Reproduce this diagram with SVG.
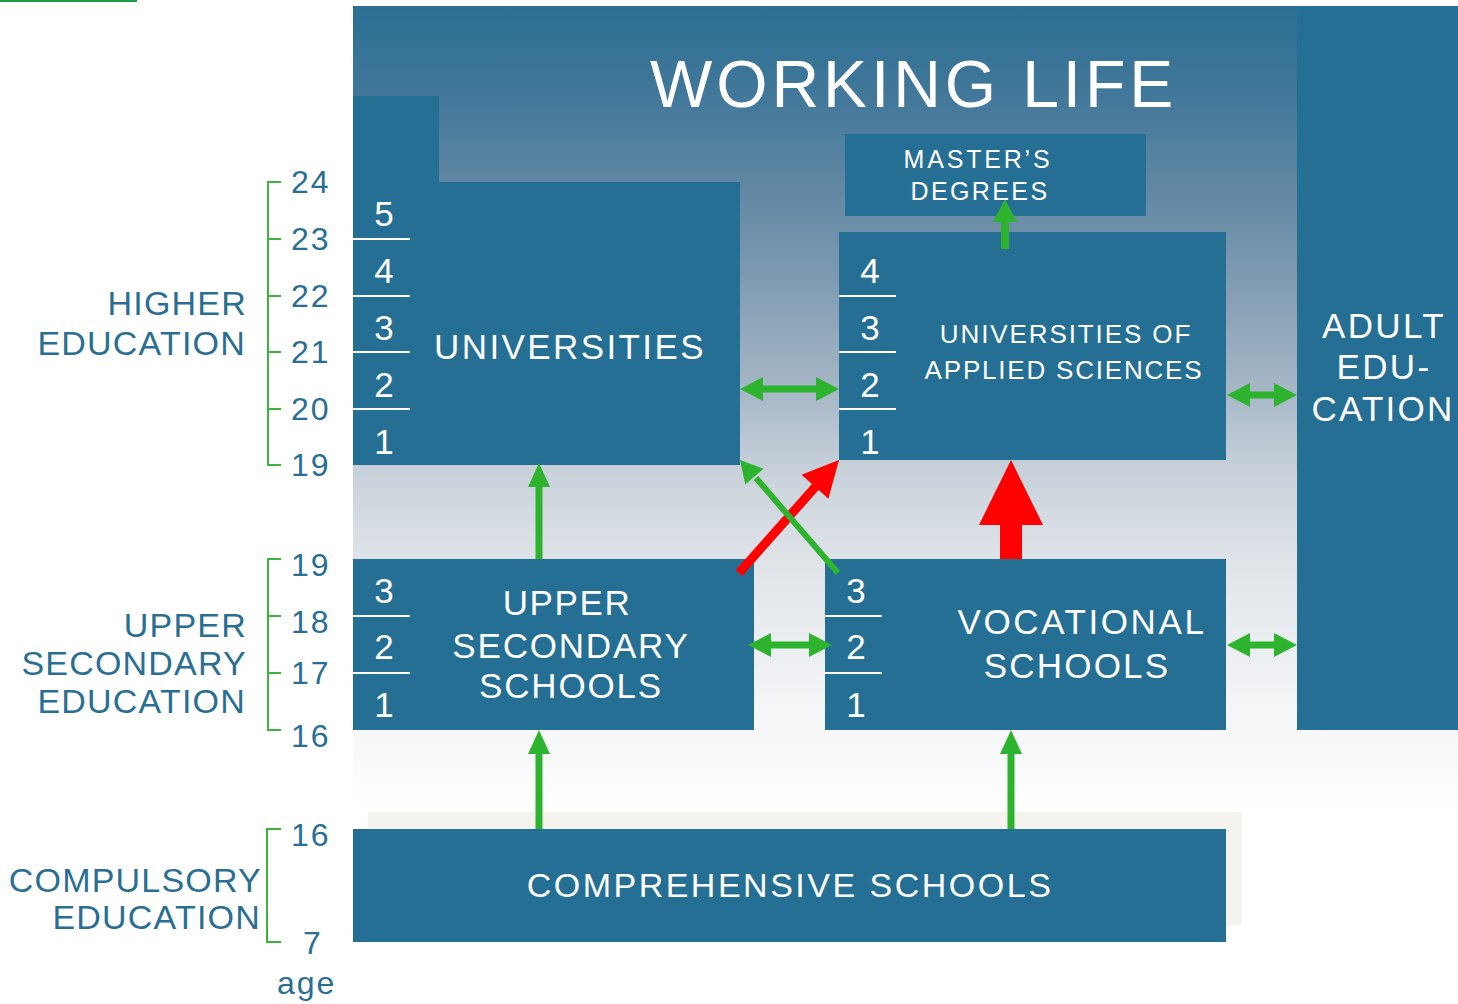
<svg xmlns="http://www.w3.org/2000/svg" width="1458" height="1004" viewBox="0 0 1458 1004">
<defs>
<linearGradient id="bg" x1="0" y1="6" x2="0" y2="812" gradientUnits="userSpaceOnUse">
<stop offset="0" stop-color="#2b6f93"/>
<stop offset="0.117" stop-color="#43789a"/>
<stop offset="0.216" stop-color="#5e86a2"/>
<stop offset="0.303" stop-color="#7594ad"/>
<stop offset="0.465" stop-color="#a3b4c4"/>
<stop offset="0.577" stop-color="#c8d1da"/>
<stop offset="0.689" stop-color="#e0e4e9"/>
<stop offset="0.863" stop-color="#f3f5f7"/>
<stop offset="0.938" stop-color="#f9fafb"/>
<stop offset="1" stop-color="#ffffff"/>
</linearGradient>
<style>
.box{fill:#256f94}
.wt{fill:#ffffff;font-family:"Liberation Sans",Arial,sans-serif}
.lbl{fill:#2a6f93;font-family:"Liberation Sans",Arial,sans-serif;font-size:34px;letter-spacing:1.2px}
.age{fill:#2a6f93;font-family:"Liberation Sans",Arial,sans-serif;font-size:32px;letter-spacing:2px}
.num{font-size:35px;text-anchor:middle}
.rule{stroke:#ffffff;stroke-width:2}
.brk{fill:none;stroke:#3bb53b;stroke-width:2}
.g{fill:#2db32d}
.r{fill:#ff0000}
</style>
</defs>
<rect x="0" y="0" width="1458" height="1004" fill="#ffffff"/>
<rect x="0" y="0" width="137" height="2" fill="#1f9a45"/>
<rect x="353" y="6" width="1105" height="806" fill="url(#bg)"/>
<rect x="368" y="812" width="874" height="113" fill="#f4f3ee"/>

<text class="wt" x="650" y="107" font-size="66" letter-spacing="3.9">WORKING LIFE</text>

<g id="masters">
<rect class="box" x="845" y="134" width="301" height="82"/>
<text class="wt" x="978" y="168" font-size="25" letter-spacing="2.8" text-anchor="middle">MASTER’S</text>
<text class="wt" x="980" y="200" font-size="25" letter-spacing="2.4" text-anchor="middle">DEGREES</text>
</g>

<g id="universities">
<rect class="box" x="353" y="96" width="86" height="369"/>
<rect class="box" x="353" y="182" width="387" height="283"/>
<line class="rule" x1="353" y1="239" x2="410" y2="239"/>
<line class="rule" x1="353" y1="296" x2="410" y2="296"/>
<line class="rule" x1="353" y1="352" x2="410" y2="352"/>
<line class="rule" x1="353" y1="409" x2="410" y2="409"/>
<text class="wt num" x="384" y="226">5</text>
<text class="wt num" x="384" y="283">4</text>
<text class="wt num" x="384" y="340">3</text>
<text class="wt num" x="384" y="397">2</text>
<text class="wt num" x="384" y="454">1</text>
<text class="wt" x="570" y="359" font-size="35" letter-spacing="2.4" text-anchor="middle">UNIVERSITIES</text>
</g>

<g id="uas">
<rect class="box" x="839" y="232" width="387" height="228"/>
<line class="rule" x1="839" y1="296" x2="896" y2="296"/>
<line class="rule" x1="839" y1="352" x2="896" y2="352"/>
<line class="rule" x1="839" y1="409" x2="896" y2="409"/>
<text class="wt num" x="870" y="283">4</text>
<text class="wt num" x="870" y="340">3</text>
<text class="wt num" x="870" y="397">2</text>
<text class="wt num" x="870" y="454">1</text>
<text class="wt" x="1066" y="343" font-size="26" letter-spacing="1.9" text-anchor="middle">UNIVERSITIES OF</text>
<text class="wt" x="1064" y="379" font-size="26" letter-spacing="1.8" text-anchor="middle">APPLIED SCIENCES</text>
</g>

<g id="adult">
<rect class="box" x="1297" y="6" width="161" height="724"/>
<text class="wt" x="1384" y="338" font-size="35" letter-spacing="2.4" text-anchor="middle">ADULT</text>
<text class="wt" x="1384" y="379" font-size="35" letter-spacing="2.4" text-anchor="middle">EDU-</text>
<text class="wt" x="1383" y="421" font-size="35" letter-spacing="2.2" text-anchor="middle">CATION</text>
</g>

<g id="upper-secondary">
<rect class="box" x="353" y="559" width="401" height="171"/>
<line class="rule" x1="353" y1="616" x2="410" y2="616"/>
<line class="rule" x1="353" y1="673" x2="410" y2="673"/>
<text class="wt num" x="384" y="603">3</text>
<text class="wt num" x="384" y="659">2</text>
<text class="wt num" x="384" y="717">1</text>
<text class="wt" x="567" y="615" font-size="35" letter-spacing="1.6" text-anchor="middle">UPPER</text>
<text class="wt" x="571" y="658" font-size="35" letter-spacing="1.8" text-anchor="middle">SECONDARY</text>
<text class="wt" x="571" y="698" font-size="35" letter-spacing="1.8" text-anchor="middle">SCHOOLS</text>
</g>

<g id="vocational">
<rect class="box" x="825" y="559" width="401" height="171"/>
<line class="rule" x1="825" y1="616" x2="882" y2="616"/>
<line class="rule" x1="825" y1="673" x2="882" y2="673"/>
<text class="wt num" x="856" y="603">3</text>
<text class="wt num" x="856" y="659">2</text>
<text class="wt num" x="856" y="717">1</text>
<text class="wt" x="1082" y="634" font-size="35" letter-spacing="2.6" text-anchor="middle">VOCATIONAL</text>
<text class="wt" x="1077" y="678" font-size="35" letter-spacing="2.2" text-anchor="middle">SCHOOLS</text>
</g>

<g id="comprehensive">
<rect class="box" x="353" y="829" width="873" height="113"/>
<text class="wt" x="790" y="897" font-size="34" letter-spacing="2.5" text-anchor="middle">COMPREHENSIVE SCHOOLS</text>
</g>

<g id="age-scale">
<path class="brk" d="M281,182 H268 V465 H281 M268,239 H281 M268,296 H281 M268,352 H281 M268,409 H281"/>
<text class="age" x="291" y="193">24</text>
<text class="age" x="291" y="250">23</text>
<text class="age" x="291" y="307">22</text>
<text class="age" x="291" y="363">21</text>
<text class="age" x="291" y="420">20</text>
<text class="age" x="291" y="476">19</text>
<text class="lbl" x="247" y="315" text-anchor="end" letter-spacing="1.5">HIGHER</text>
<text class="lbl" x="246" y="355" text-anchor="end" letter-spacing="0.6">EDUCATION</text>

<path class="brk" d="M281,559 H268 V730 H281 M268,616 H281 M268,673 H281"/>
<text class="age" x="291" y="576">19</text>
<text class="age" x="291" y="633">18</text>
<text class="age" x="291" y="684">17</text>
<text class="age" x="291" y="747">16</text>
<text class="lbl" x="247" y="637" text-anchor="end">UPPER</text>
<text class="lbl" x="247" y="675" text-anchor="end">SECONDARY</text>
<text class="lbl" x="246" y="713" text-anchor="end" letter-spacing="0.6">EDUCATION</text>

<path class="brk" d="M281,829 H267 V942 H281"/>
<text class="age" x="291" y="846">16</text>
<text class="age" x="303" y="954">7</text>
<text class="age" x="277" y="994" font-size="34" letter-spacing="1">age</text>
<text class="lbl" x="262" y="892" text-anchor="end">COMPULSORY</text>
<text class="lbl" x="261" y="929" text-anchor="end" letter-spacing="0.6">EDUCATION</text>
</g>

<g id="connectors">
<polygon class="g" points="1001,249 1001,222 993,222 1005,199 1017,222 1009,222 1009,249"/>
<polygon class="g" points="535.5,559 535.5,487 528,487 539,463 550,487 542.5,487 542.5,559"/>
<polygon class="g" points="535.5,829 535.5,754 528,754 539,730 550,754 542.5,754 542.5,829"/>
<polygon class="g" points="1007.5,829 1007.5,754 1000,754 1011,730 1022,754 1014.5,754 1014.5,829"/>
<polygon class="g" points="740,389 763,377 763,385.5 816,385.5 816,377 839,389 816,401 816,392.5 763,392.5 763,401"/>
<polygon class="g" points="748,645 771,633 771,641.5 809,641.5 809,633 832,645 809,657 809,648.5 771,648.5 771,657"/>
<polygon class="g" points="1227,395 1250,383 1250,391.5 1274,391.5 1274,383 1297,395 1274,407 1274,398.5 1250,398.5 1250,407"/>
<polygon class="g" points="1227,645 1250,633 1250,641.5 1274,641.5 1274,633 1297,645 1274,657 1274,648.5 1250,648.5 1250,657"/>
<polygon class="r" points="1000,559 1000,525 979,525 1011,460 1043,525 1022,525 1022,559"/>
<line x1="739" y1="573" x2="817" y2="485" stroke="#ff0000" stroke-width="9"/>
<polygon class="r" points="839,460 828.4,498.8 801.6,474.8"/>
<line x1="838" y1="573" x2="756" y2="478" stroke="#2db32d" stroke-width="6"/>
<polygon class="g" points="740,460 763.5,468.7 745.3,484.5"/>
</g>
</svg>
